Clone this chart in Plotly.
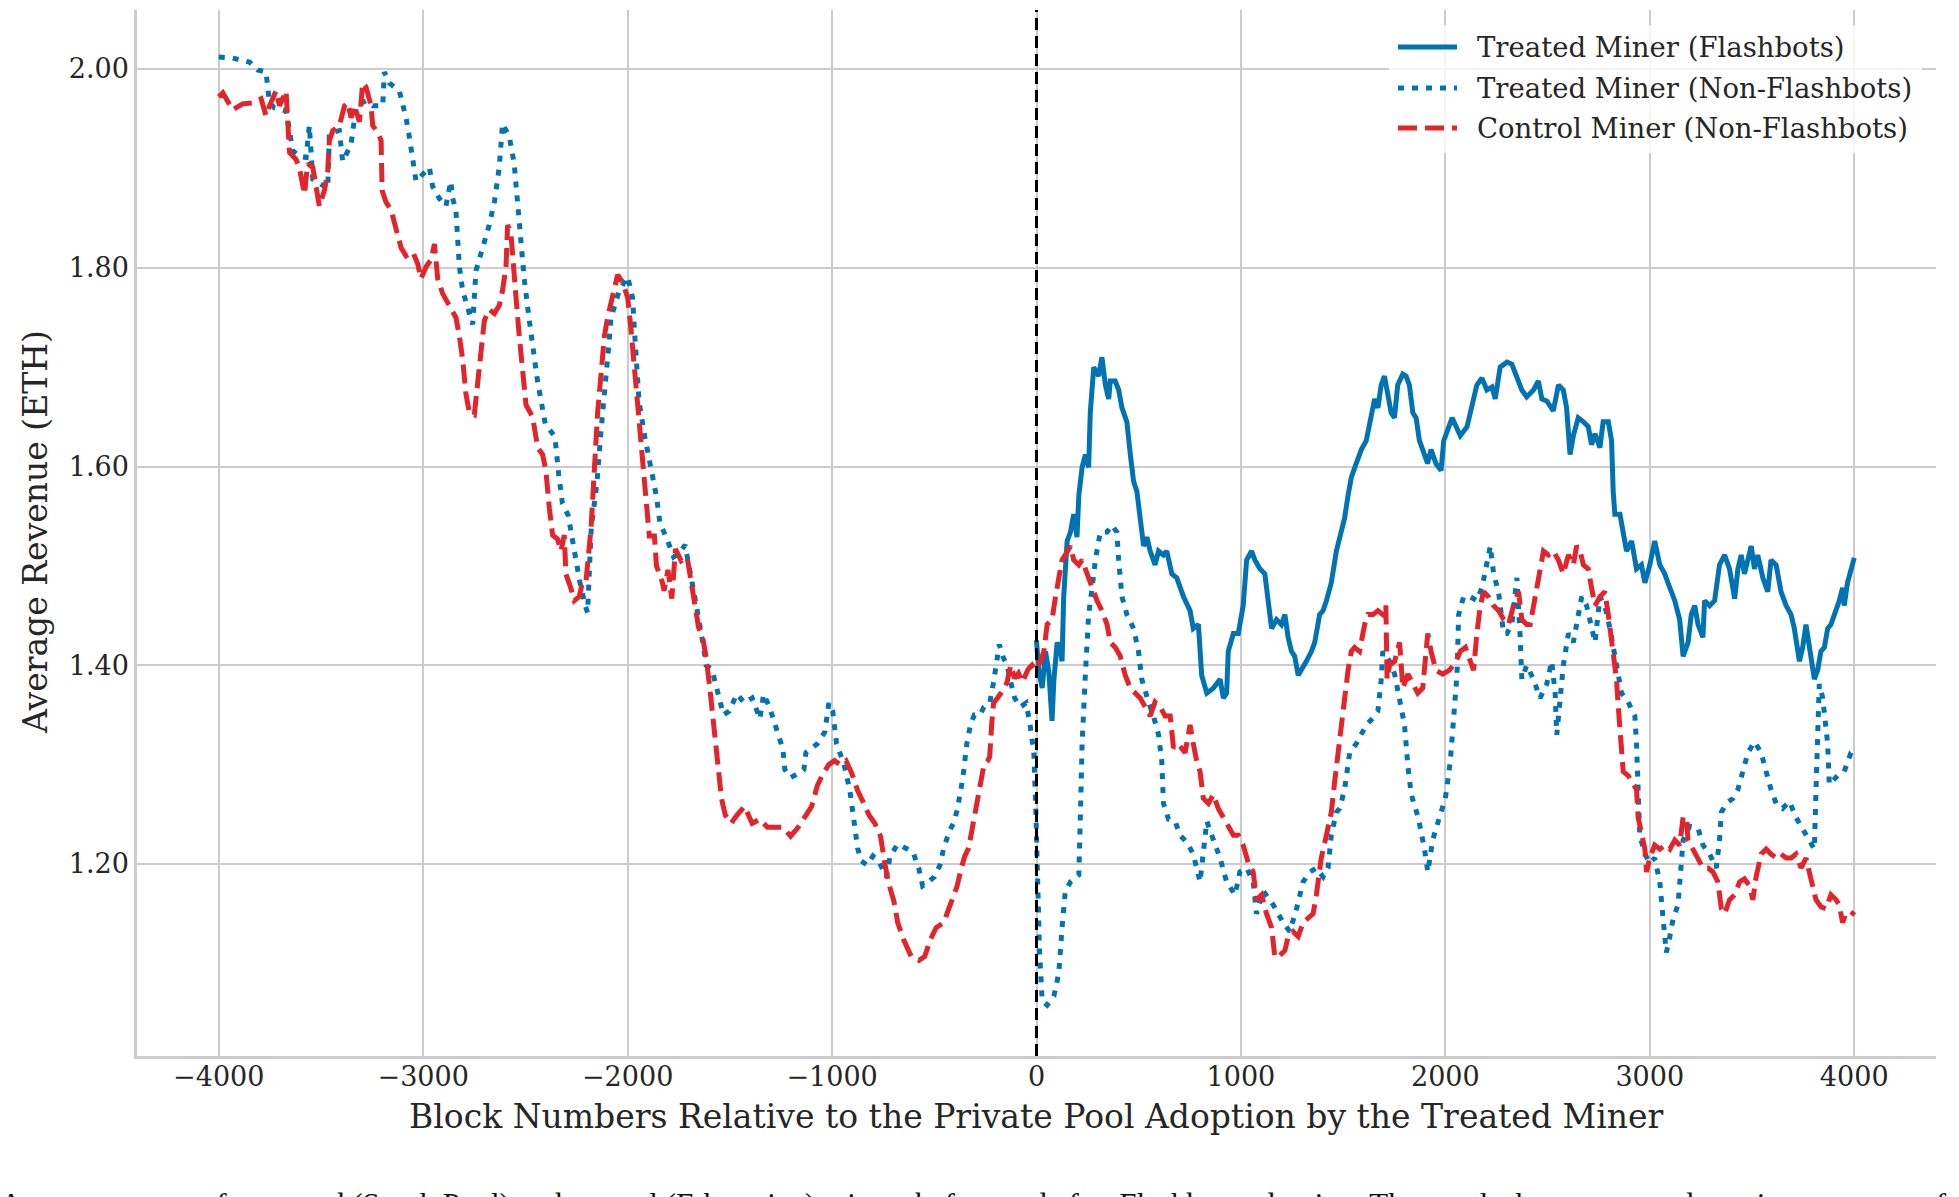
import plotly.graph_objects as go

# ---------------- data ----------------
flash_x = [0, 3, 11, 28, 44, 60, 76, 85, 101, 117, 125, 133, 150, 166, 182, 198, 207, 223, 239, 255, 263, 280, 304, 320, 337, 353, 361, 385, 402, 418, 442, 459, 475, 491, 507, 524, 540, 556, 580, 597, 621, 637, 662, 686, 719, 751, 767, 792, 808, 833, 865, 898, 914, 930, 938, 963, 987, 1011, 1028, 1052, 1068, 1093, 1117, 1133, 1150, 1174, 1198, 1215, 1231, 1247, 1263, 1280, 1296, 1320, 1345, 1361, 1385, 1402, 1418, 1442, 1467, 1491, 1507, 1524, 1540, 1564, 1589, 1613, 1629, 1654, 1670, 1686, 1702, 1719, 1735, 1751, 1767, 1792, 1808, 1824, 1841, 1857, 1873, 1889, 1913, 1930, 1954, 1979, 1992, 2033, 2073, 2106, 2130, 2154, 2179, 2203, 2228, 2244, 2268, 2301, 2325, 2350, 2374, 2398, 2431, 2455, 2472, 2496, 2528, 2553, 2577, 2593, 2610, 2626, 2650, 2675, 2699, 2715, 2732, 2756, 2772, 2797, 2813, 2821, 2829, 2854, 2870, 2886, 2911, 2935, 2959, 2976, 3000, 3024, 3049, 3073, 3098, 3122, 3146, 3163, 3187, 3203, 3220, 3236, 3260, 3268, 3293, 3317, 3341, 3366, 3390, 3415, 3431, 3447, 3463, 3480, 3496, 3512, 3528, 3553, 3577, 3593, 3618, 3642, 3667, 3691, 3707, 3732, 3748, 3764, 3780, 3805, 3821, 3837, 3854, 3870, 3886, 3911, 3927, 3943, 3951, 3967, 3984, 4000]
flash_y = [1.425, 1.418, 1.394, 1.377, 1.414, 1.394, 1.344, 1.385, 1.423, 1.414, 1.404, 1.469, 1.525, 1.534, 1.552, 1.529, 1.571, 1.599, 1.612, 1.599, 1.654, 1.700, 1.691, 1.710, 1.682, 1.668, 1.686, 1.686, 1.677, 1.659, 1.645, 1.612, 1.585, 1.575, 1.552, 1.520, 1.529, 1.515, 1.501, 1.515, 1.511, 1.515, 1.492, 1.488, 1.469, 1.455, 1.437, 1.441, 1.390, 1.372, 1.377, 1.386, 1.367, 1.372, 1.414, 1.432, 1.432, 1.460, 1.506, 1.515, 1.506, 1.497, 1.492, 1.469, 1.437, 1.446, 1.441, 1.451, 1.428, 1.414, 1.409, 1.390, 1.395, 1.404, 1.414, 1.423, 1.451, 1.455, 1.465, 1.483, 1.515, 1.534, 1.548, 1.571, 1.589, 1.603, 1.617, 1.626, 1.645, 1.668, 1.659, 1.682, 1.691, 1.668, 1.654, 1.649, 1.682, 1.693, 1.691, 1.682, 1.654, 1.649, 1.626, 1.617, 1.603, 1.617, 1.603, 1.596, 1.626, 1.649, 1.631, 1.640, 1.663, 1.682, 1.689, 1.677, 1.680, 1.668, 1.700, 1.705, 1.703, 1.691, 1.677, 1.670, 1.677, 1.686, 1.668, 1.666, 1.656, 1.682, 1.677, 1.659, 1.612, 1.631, 1.649, 1.645, 1.640, 1.622, 1.633, 1.619, 1.645, 1.645, 1.626, 1.575, 1.552, 1.552, 1.534, 1.515, 1.525, 1.497, 1.501, 1.483, 1.501, 1.525, 1.501, 1.492, 1.478, 1.465, 1.446, 1.409, 1.423, 1.451, 1.460, 1.441, 1.428, 1.465, 1.460, 1.465, 1.501, 1.511, 1.497, 1.467, 1.497, 1.511, 1.492, 1.506, 1.520, 1.497, 1.511, 1.488, 1.474, 1.506, 1.501, 1.474, 1.460, 1.451, 1.437, 1.404, 1.418, 1.441, 1.418, 1.386, 1.395, 1.414, 1.418, 1.437, 1.441, 1.455, 1.465, 1.478, 1.460, 1.483, 1.497, 1.508]

treated_nf_x = [-4000, -3932, -3850, -3809, -3769, -3760, -3752, -3728, -3671, -3638, -3606, -3573, -3557, -3540, -3467, -3459, -3410, -3394, -3353, -3328, -3312, -3280, -3247, -3198, -3190, -3166, -3117, -3084, -3068, -3051, -3035, -2970, -2954, -2922, -2889, -2865, -2856, -2840, -2831, -2823, -2807, -2774, -2758, -2742, -2709, -2677, -2652, -2628, -2612, -2579, -2555, -2538, -2522, -2506, -2481, -2456, -2440, -2403, -2356, -2337, -2319, -2291, -2262, -2234, -2206, -2196, -2178, -2150, -2131, -2112, -2094, -2081, -2041, -2000, -1976, -1963, -1944, -1916, -1878, -1859, -1841, -1813, -1775, -1747, -1719, -1691, -1663, -1634, -1616, -1588, -1560, -1531, -1503, -1466, -1428, -1391, -1353, -1335, -1306, -1278, -1241, -1231, -1203, -1166, -1138, -1128, -1072, -1035, -1016, -997, -978, -941, -913, -894, -875, -857, -829, -800, -772, -735, -716, -679, -641, -604, -575, -557, -529, -500, -472, -454, -426, -407, -388, -360, -341, -322, -304, -276, -257, -229, -210, -182, -163, -144, -126, -107, -79, -51, -32, -13, -4, 6, 15, 28, 52, 85, 109, 125, 141, 166, 207, 215, 223, 239, 255, 272, 288, 312, 345, 369, 393, 402, 418, 442, 475, 499, 515, 548, 572, 597, 613, 621, 646, 678, 702, 735, 767, 800, 816, 833, 857, 898, 930, 971, 995, 1028, 1060, 1076, 1109, 1158, 1207, 1239, 1272, 1304, 1337, 1369, 1402, 1426, 1442, 1467, 1483, 1507, 1532, 1564, 1613, 1646, 1670, 1686, 1694, 1727, 1752, 1776, 1800, 1817, 1833, 1867, 1898, 1914, 1938, 1971, 2000, 2024, 2041, 2057, 2065, 2089, 2122, 2154, 2179, 2220, 2236, 2260, 2285, 2301, 2325, 2350, 2366, 2374, 2398, 2431, 2463, 2496, 2520, 2537, 2545, 2561, 2577, 2602, 2626, 2642, 2667, 2691, 2715, 2732, 2756, 2780, 2805, 2821, 2837, 2862, 2894, 2927, 2935, 2943, 2951, 2976, 3000, 3024, 3049, 3065, 3081, 3098, 3114, 3138, 3154, 3163, 3195, 3236, 3260, 3293, 3325, 3341, 3350, 3374, 3407, 3431, 3455, 3480, 3512, 3545, 3569, 3593, 3618, 3650, 3683, 3715, 3740, 3764, 3789, 3805, 3813, 3821, 3829, 3846, 3862, 3870, 3878, 3894, 3919, 3951, 3984, 4000]
treated_nf_y = [2.012, 2.011, 2.007, 1.999, 1.997, 1.982, 1.966, 1.961, 1.958, 1.918, 1.912, 1.911, 1.943, 1.889, 1.880, 1.936, 1.938, 1.907, 1.924, 1.963, 1.965, 1.968, 1.963, 1.963, 1.997, 1.986, 1.978, 1.951, 1.932, 1.909, 1.887, 1.901, 1.882, 1.870, 1.862, 1.887, 1.870, 1.858, 1.835, 1.801, 1.777, 1.754, 1.743, 1.797, 1.820, 1.843, 1.866, 1.901, 1.945, 1.932, 1.905, 1.866, 1.816, 1.789, 1.747, 1.712, 1.685, 1.643, 1.630, 1.592, 1.563, 1.551, 1.517, 1.484, 1.459, 1.453, 1.538, 1.584, 1.634, 1.685, 1.718, 1.750, 1.777, 1.791, 1.770, 1.725, 1.665, 1.630, 1.590, 1.570, 1.542, 1.530, 1.509, 1.513, 1.521, 1.492, 1.459, 1.425, 1.400, 1.396, 1.375, 1.350, 1.354, 1.371, 1.362, 1.367, 1.346, 1.371, 1.358, 1.341, 1.316, 1.295, 1.287, 1.291, 1.295, 1.312, 1.321, 1.333, 1.362, 1.354, 1.321, 1.300, 1.274, 1.245, 1.216, 1.203, 1.199, 1.208, 1.203, 1.187, 1.208, 1.220, 1.216, 1.212, 1.195, 1.178, 1.182, 1.187, 1.199, 1.216, 1.233, 1.241, 1.254, 1.287, 1.321, 1.341, 1.350, 1.350, 1.358, 1.362, 1.383, 1.421, 1.408, 1.400, 1.383, 1.367, 1.358, 1.362, 1.341, 1.312, 1.258, 1.174, 1.111, 1.062, 1.058, 1.067, 1.090, 1.136, 1.173, 1.182, 1.189, 1.252, 1.321, 1.391, 1.451, 1.478, 1.506, 1.534, 1.534, 1.541, 1.534, 1.506, 1.469, 1.451, 1.437, 1.414, 1.386, 1.363, 1.349, 1.330, 1.303, 1.261, 1.245, 1.243, 1.229, 1.222, 1.210, 1.182, 1.210, 1.243, 1.229, 1.206, 1.182, 1.169, 1.192, 1.196, 1.182, 1.150, 1.173, 1.159, 1.141, 1.132, 1.155, 1.182, 1.192, 1.196, 1.187, 1.196, 1.229, 1.252, 1.256, 1.275, 1.312, 1.321, 1.340, 1.347, 1.354, 1.385, 1.414, 1.404, 1.391, 1.367, 1.340, 1.298, 1.270, 1.247, 1.215, 1.192, 1.224, 1.247, 1.266, 1.303, 1.344, 1.391, 1.451, 1.469, 1.469, 1.465, 1.478, 1.520, 1.492, 1.474, 1.432, 1.432, 1.441, 1.488, 1.428, 1.386, 1.400, 1.386, 1.367, 1.381, 1.404, 1.372, 1.330, 1.367, 1.400, 1.432, 1.423, 1.441, 1.469, 1.460, 1.441, 1.423, 1.469, 1.460, 1.437, 1.418, 1.400, 1.372, 1.363, 1.349, 1.321, 1.275, 1.229, 1.210, 1.201, 1.206, 1.182, 1.145, 1.111, 1.127, 1.145, 1.159, 1.196, 1.224, 1.238, 1.236, 1.219, 1.210, 1.196, 1.224, 1.252, 1.261, 1.266, 1.275, 1.293, 1.312, 1.323, 1.312, 1.293, 1.275, 1.261, 1.256, 1.263, 1.247, 1.238, 1.229, 1.219, 1.215, 1.275, 1.344, 1.381, 1.367, 1.340, 1.321, 1.280, 1.284, 1.289, 1.293, 1.312, 1.314]

control_x = [-4000, -3980, -3932, -3883, -3834, -3793, -3769, -3752, -3720, -3703, -3671, -3663, -3654, -3622, -3606, -3581, -3565, -3540, -3508, -3483, -3467, -3459, -3442, -3410, -3385, -3369, -3353, -3336, -3312, -3296, -3280, -3255, -3247, -3222, -3206, -3201, -3182, -3157, -3133, -3108, -3084, -3051, -3027, -3011, -2986, -2962, -2945, -2929, -2905, -2872, -2840, -2823, -2807, -2791, -2774, -2750, -2733, -2717, -2701, -2677, -2652, -2628, -2612, -2595, -2587, -2571, -2562, -2546, -2530, -2514, -2497, -2465, -2449, -2440, -2416, -2400, -2383, -2367, -2343, -2326, -2310, -2302, -2277, -2261, -2237, -2220, -2204, -2196, -2179, -2163, -2147, -2130, -2114, -2098, -2073, -2049, -2024, -2000, -1984, -1967, -1951, -1927, -1910, -1894, -1869, -1859, -1831, -1822, -1803, -1784, -1766, -1738, -1709, -1691, -1672, -1653, -1634, -1616, -1597, -1578, -1560, -1541, -1522, -1494, -1466, -1428, -1391, -1353, -1316, -1278, -1241, -1203, -1166, -1128, -1100, -1072, -1044, -1016, -988, -960, -932, -903, -875, -847, -819, -791, -763, -744, -725, -697, -679, -650, -613, -575, -547, -519, -491, -454, -426, -407, -388, -369, -351, -332, -313, -294, -276, -257, -238, -229, -219, -210, -191, -163, -144, -126, -107, -88, -69, -41, -22, -5, 20, 36, 52, 76, 93, 109, 125, 141, 166, 182, 207, 223, 247, 272, 296, 320, 345, 361, 385, 410, 434, 459, 483, 507, 532, 556, 580, 605, 629, 654, 670, 694, 727, 751, 767, 784, 800, 816, 841, 865, 889, 914, 938, 963, 987, 1011, 1036, 1060, 1076, 1101, 1125, 1150, 1166, 1190, 1215, 1231, 1255, 1280, 1304, 1328, 1353, 1369, 1393, 1418, 1442, 1459, 1475, 1491, 1507, 1524, 1540, 1556, 1580, 1605, 1621, 1646, 1670, 1694, 1709, 1715, 1727, 1752, 1776, 1792, 1817, 1840, 1865, 1889, 1914, 1930, 1954, 1987, 2020, 2052, 2073, 2098, 2122, 2138, 2154, 2171, 2187, 2211, 2236, 2260, 2285, 2309, 2333, 2358, 2374, 2398, 2415, 2439, 2463, 2480, 2504, 2528, 2553, 2577, 2602, 2626, 2642, 2659, 2675, 2699, 2715, 2732, 2756, 2780, 2797, 2813, 2829, 2837, 2846, 2854, 2870, 2894, 2919, 2935, 2943, 2959, 2976, 2984, 3000, 3024, 3049, 3073, 3098, 3122, 3146, 3163, 3179, 3187, 3211, 3236, 3260, 3285, 3309, 3333, 3350, 3366, 3390, 3415, 3439, 3463, 3488, 3504, 3520, 3545, 3569, 3593, 3618, 3642, 3667, 3691, 3715, 3740, 3764, 3780, 3797, 3813, 3837, 3862, 3886, 3911, 3927, 3943, 3959, 3984, 4000]
control_y = [1.972, 1.976, 1.959, 1.965, 1.966, 1.970, 1.953, 1.963, 1.978, 1.963, 1.978, 1.936, 1.916, 1.909, 1.901, 1.874, 1.905, 1.901, 1.862, 1.878, 1.897, 1.928, 1.938, 1.943, 1.963, 1.966, 1.951, 1.963, 1.947, 1.986, 1.982, 1.963, 1.943, 1.936, 1.928, 1.878, 1.866, 1.858, 1.839, 1.820, 1.812, 1.816, 1.804, 1.789, 1.801, 1.808, 1.824, 1.789, 1.774, 1.762, 1.750, 1.731, 1.708, 1.673, 1.654, 1.652, 1.685, 1.720, 1.747, 1.758, 1.754, 1.762, 1.777, 1.801, 1.843, 1.835, 1.808, 1.770, 1.731, 1.693, 1.662, 1.650, 1.631, 1.619, 1.612, 1.596, 1.558, 1.531, 1.527, 1.515, 1.531, 1.492, 1.477, 1.465, 1.469, 1.484, 1.484, 1.500, 1.538, 1.596, 1.654, 1.693, 1.731, 1.750, 1.770, 1.793, 1.785, 1.770, 1.739, 1.700, 1.665, 1.615, 1.565, 1.530, 1.530, 1.500, 1.484, 1.475, 1.496, 1.467, 1.517, 1.505, 1.509, 1.488, 1.463, 1.438, 1.429, 1.408, 1.375, 1.337, 1.300, 1.266, 1.249, 1.241, 1.249, 1.258, 1.241, 1.245, 1.237, 1.237, 1.237, 1.228, 1.237, 1.249, 1.258, 1.279, 1.291, 1.300, 1.304, 1.300, 1.304, 1.291, 1.274, 1.262, 1.249, 1.241, 1.228, 1.203, 1.182, 1.162, 1.141, 1.124, 1.107, 1.103, 1.107, 1.124, 1.136, 1.141, 1.157, 1.166, 1.178, 1.195, 1.208, 1.216, 1.237, 1.258, 1.279, 1.300, 1.304, 1.308, 1.341, 1.362, 1.367, 1.375, 1.383, 1.400, 1.387, 1.392, 1.383, 1.396, 1.400, 1.395, 1.404, 1.414, 1.441, 1.446, 1.469, 1.488, 1.506, 1.511, 1.520, 1.506, 1.501, 1.506, 1.492, 1.478, 1.465, 1.455, 1.441, 1.423, 1.418, 1.409, 1.390, 1.377, 1.372, 1.367, 1.358, 1.349, 1.363, 1.358, 1.349, 1.349, 1.317, 1.321, 1.312, 1.340, 1.321, 1.303, 1.293, 1.266, 1.261, 1.270, 1.256, 1.247, 1.238, 1.229, 1.229, 1.219, 1.201, 1.192, 1.164, 1.169, 1.150, 1.136, 1.106, 1.108, 1.113, 1.127, 1.132, 1.127, 1.141, 1.145, 1.150, 1.169, 1.206, 1.229, 1.252, 1.284, 1.312, 1.340, 1.367, 1.395, 1.414, 1.418, 1.414, 1.441, 1.451, 1.451, 1.455, 1.451, 1.460, 1.386, 1.400, 1.404, 1.423, 1.377, 1.391, 1.381, 1.372, 1.377, 1.432, 1.414, 1.395, 1.391, 1.395, 1.404, 1.414, 1.418, 1.404, 1.395, 1.432, 1.460, 1.474, 1.469, 1.460, 1.455, 1.446, 1.441, 1.460, 1.474, 1.446, 1.441, 1.441, 1.469, 1.497, 1.515, 1.511, 1.515, 1.506, 1.492, 1.511, 1.501, 1.520, 1.515, 1.501, 1.497, 1.478, 1.460, 1.469, 1.474, 1.451, 1.428, 1.404, 1.386, 1.358, 1.330, 1.293, 1.289, 1.280, 1.275, 1.247, 1.229, 1.215, 1.192, 1.206, 1.219, 1.215, 1.219, 1.215, 1.224, 1.219, 1.247, 1.247, 1.224, 1.215, 1.206, 1.196, 1.196, 1.192, 1.182, 1.155, 1.150, 1.164, 1.169, 1.182, 1.185, 1.178, 1.164, 1.187, 1.210, 1.215, 1.210, 1.206, 1.210, 1.206, 1.206, 1.210, 1.196, 1.206, 1.192, 1.178, 1.164, 1.157, 1.155, 1.169, 1.164, 1.159, 1.141, 1.150, 1.148, 1.152]

series_names = ["Treated Miner (Flashbots)", "Treated Miner (Non-Flashbots)", "Control Miner (Non-Flashbots)"]
x_ticks = [-4000, -3000, -2000, -1000, 0, 1000, 2000, 3000, 4000]
y_ticks = [1.20, 1.40, 1.60, 1.80, 2.00]
x_title = "Block Numbers Relative to the Private Pool Adoption by the Treated Miner"
y_title = "Average Revenue (ETH)"
caption = ("Average revenue for treated (Spark Pool) and control (Ethermine) miners before and after "
           "Flashbots adoption. The graph shows centered moving averages of")

# ---------------- figure ----------------
BLUE = "#0173b2"
RED = "#e3242b"
SERIF = "DejaVu Serif"
TXT = "#262626"
LW = 5
styles = [
    dict(color=BLUE, width=LW),
    dict(color=BLUE, width=LW, dash="6px,8px"),
    dict(color=RED, width=LW, dash="19px,8px"),
]

W, H = 1959, 1197
L, R, T, B = 137, 23, 10, 141
pw, ph = W - L - R, H - T - B


def px_x(p):
    return (p - L) / pw


def px_y(p):
    return (H - B - p) / ph


fig = go.Figure()
for xs, ys, nm, st in zip([flash_x, treated_nf_x, control_x],
                          [flash_y, treated_nf_y, control_y], series_names, styles):
    fig.add_trace(go.Scatter(x=xs, y=ys, mode="lines", name=nm, line=st, showlegend=False))

shapes = [
    dict(type="line", xref="x", yref="paper", x0=0, x1=0, y0=0, y1=1,
         line=dict(color="black", width=3, dash="12px,6px"), layer="above"),
    # legend frame
    dict(type="rect", xref="paper", yref="paper", x0=px_x(1389), x1=px_x(1922),
         y0=px_y(153), y1=px_y(25), fillcolor="rgba(255,255,255,0.8)",
         line=dict(width=0), layer="above"),
]
annotations = []
row_y = [47, 88, 128]
for nm, st, ry in zip(series_names, styles, row_y):
    shapes.append(dict(type="line", xref="paper", yref="paper", x0=px_x(1398), x1=px_x(1457),
                       y0=px_y(ry), y1=px_y(ry), line=st, layer="above"))
    annotations.append(dict(text=nm, xref="paper", yref="paper", x=px_x(1475), y=px_y(ry),
                            xanchor="left", yanchor="middle", showarrow=False,
                            font=dict(family=SERIF, size=27.5, color=TXT)))

annotations += [
    dict(text=x_title, xref="paper", yref="paper", x=0.5, y=px_y(1116),
         xanchor="center", yanchor="middle", showarrow=False,
         font=dict(family=SERIF, size=33, color=TXT)),
    dict(text=y_title, xref="paper", yref="paper", x=px_x(35), y=px_y(532),
         xanchor="center", yanchor="middle", textangle=-90, showarrow=False,
         font=dict(family=SERIF, size=33, color=TXT)),
    dict(text=caption, xref="paper", yref="paper", x=px_x(-2), y=px_y(1204),
         xanchor="left", yanchor="middle", showarrow=False,
         font=dict(family="Liberation Serif", size=31, color="#111111")),
]

fig.update_layout(
    width=W, height=H,
    margin=dict(l=L, r=R, t=T, b=B, pad=0),
    paper_bgcolor="white", plot_bgcolor="white",
    font=dict(family=SERIF, color=TXT, size=27),
    showlegend=False,
    shapes=shapes,
    annotations=annotations,
    xaxis=dict(range=[-4400, 4400], tickvals=x_ticks, showgrid=True, gridcolor="#cccccc",
               gridwidth=1.5, zeroline=False, showline=True, linecolor="#cccccc", linewidth=2.5,
               ticks="", tickfont=dict(family=SERIF, size=27, color=TXT), ticklabelstandoff=-5),
    yaxis=dict(range=[1.0068, 2.0594], tickvals=y_ticks, tickformat=".2f", showgrid=True,
               gridcolor="#cccccc", gridwidth=1.5, zeroline=False, showline=True,
               linecolor="#cccccc", linewidth=2.5, ticks="",
               tickfont=dict(family=SERIF, size=27, color=TXT), ticklabelstandoff=0),
)

fig.write_html("out.html")
